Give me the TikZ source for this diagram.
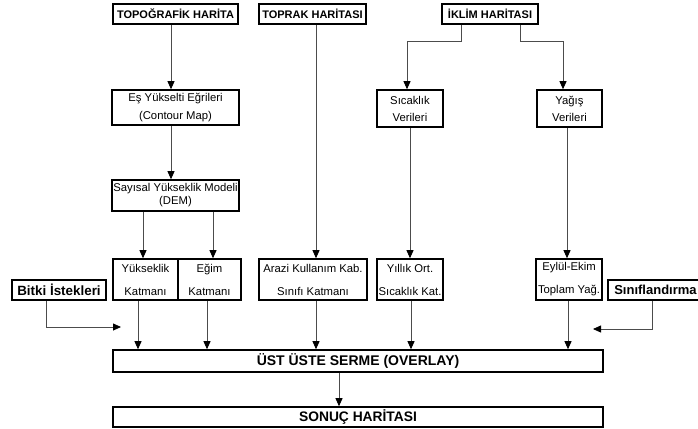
\documentclass[tikz,border=0pt]{standalone}
\usepackage{fontspec}
\setmainfont{Liberation Sans}
\usetikzlibrary{arrows.meta}

\newcommand*{\txtfont}{\fontsize{11.3}{18}\selectfont}
\newcommand*{\hdrfont}{\bfseries\fontsize{11}{13}\selectfont}
\newcommand*{\sidefont}{\bfseries\fontsize{13.4}{15}\selectfont}

\tikzset{
	box/.style={draw, line width=1.6pt, inner sep=0pt, align=center},
	conn/.style={black!70, line width=0.8pt, -{Triangle[length=8pt,width=7pt,color=black]}},
}

\begin{document}
\begin{tikzpicture}[x=1pt,y=-1pt]
	\useasboundingbox (0,0) rectangle (698,428);

	% maps
	\node[box, minimum width=125, minimum height=20, font=\hdrfont] (topo) at (175.5,14) {TOPOĞRAFİK HARİTA};
	\node[box, minimum width=107, minimum height=20, font=\hdrfont] (toprak) at (312.5,14) {TOPRAK HARİTASI};
	\node[box, minimum width=96, minimum height=20, font=\hdrfont] (iklim) at (490,14) {İKLİM HARİTASI};

	% intermediate data
	\node[box, minimum width=127, minimum height=35, font=\txtfont] (contour) at (175.5,107.5) {Eş Yükselti Eğrileri\\(Contour Map)};
	\node[box, minimum width=127, minimum height=31, font=\fontsize{11.3}{13}\selectfont] (dem) at (175.5,195.5) {Sayısal Yükseklik Modeli\\(DEM)};
	\node[box, minimum width=66, minimum height=37, font=\fontsize{11.3}{17}\selectfont] (sicaklik) at (410,108.5) {Sıcaklık\\Verileri};
	\node[box, minimum width=65, minimum height=37, font=\fontsize{11.3}{17}\selectfont] (yagis) at (569.5,108.5) {Yağış\\Verileri};

	% layers
	\node[box, minimum width=65, minimum height=41, font=\fontsize{11.3}{23}\selectfont] (yukseklik) at (145.5,279.5) {Yükseklik\\Katmanı};
	\node[box, minimum width=63, minimum height=41, font=\fontsize{11.3}{23}\selectfont] (egim) at (209.5,279.5) {Eğim\\Katmanı};
	\node[box, minimum width=108, minimum height=41, font=\fontsize{11.3}{23}\selectfont] (arazi) at (313,279.5) {Arazi Kullanım Kab.\\Sınıfı Katmanı};
	\node[box, minimum width=66, minimum height=41, font=\fontsize{11.3}{23}\selectfont] (yillik) at (410,279.5) {Yıllık Ort.\\Sıcaklık Kat.};
	\node[box, minimum width=66, minimum height=41, font=\fontsize{11.3}{23}\selectfont] (eylul) at (569,279.5) {Eylül-Ekim\\Toplam Yağ.};

	% side inputs
	\node[box, minimum width=94, minimum height=20, font=\sidefont] (bitki) at (59,290) {Bitki İstekleri};
	\node[box, minimum height=20, inner xsep=6.5pt, anchor=west, font=\bfseries\fontsize{13}{15}\selectfont] (sinif) at (607,290) {Sınıflandırma};

	% result
	\node[box, minimum width=490, minimum height=22, font=\bfseries\fontsize{14}{16}\selectfont] (overlay) at (358,361) {ÜST ÜSTE SERME (OVERLAY)};
	\node[box, minimum width=490, minimum height=20, font=\bfseries\fontsize{13.8}{16}\selectfont] (sonuc) at (358,417) {SONUÇ HARİTASI};

	\coordinate (bitkiend) at (121,327);
	\coordinate (sinifend) at (593,329);

	% connectors
	\draw[conn] ([xshift=-4.5]topo.south) -- ([xshift=-4.5]contour.north);
	\draw[conn] ([xshift=-4.5]contour.south) -- ([xshift=-4.5]dem.north);
	\draw[conn] ([xshift=3.5]toprak.south) -- ([xshift=3]arazi.north);
	\draw[conn] ([xshift=-29]iklim.south) |- ++(0,17) -| ([xshift=-3]sicaklik.north);
	\draw[conn] ([xshift=30]iklim.south) |- ++(0,17) -| ([xshift=-6.5]yagis.north);
	\draw[conn] ([xshift=-32.5]dem.south) -- ([xshift=-2.5]yukseklik.north);
	\draw[conn] ([xshift=37.5]dem.south) -- ([xshift=3.5]egim.north);
	\draw[conn] (sicaklik.south) -- (yillik.north);
	\draw[conn] ([xshift=-2.5]yagis.south) -- ([xshift=-2]eylul.north);

	\draw[conn] ([xshift=-7.5]yukseklik.south) -- ([xshift=-7.5]yukseklik.south |- overlay.north);
	\draw[conn] ([xshift=-2.5]egim.south) -- ([xshift=-2.5]egim.south |- overlay.north);
	\draw[conn] ([xshift=3]arazi.south) -- ([xshift=3]arazi.south |- overlay.north);
	\draw[conn] ([xshift=1]yillik.south) -- ([xshift=1]yillik.south |- overlay.north);
	\draw[conn] ([xshift=-1]eylul.south) -- ([xshift=-1]eylul.south |- overlay.north);
	\draw[conn] ([xshift=-13]bitki.south) |- (bitkiend);
	\draw[conn] (sinif.south -| 652,0) |- (sinifend);
	\draw[conn] ([xshift=-19]overlay.south) -- ([xshift=-19]sonuc.north);

\end{tikzpicture}
\end{document}
